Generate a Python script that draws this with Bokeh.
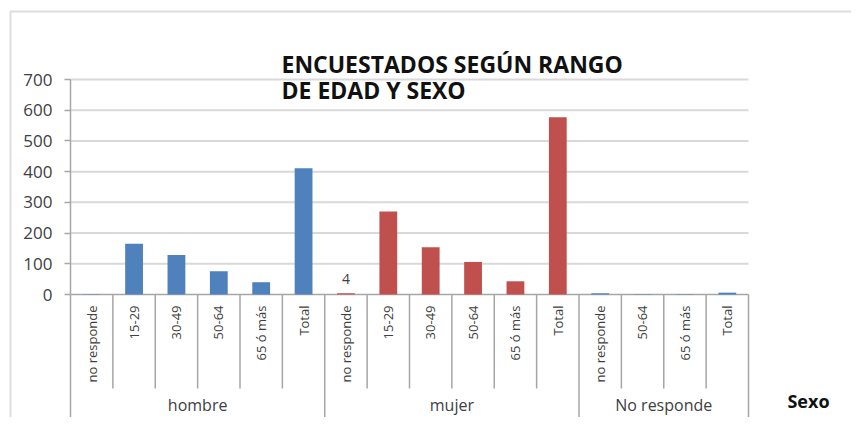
import math
from bokeh.plotting import figure
from bokeh.models import Range1d, FixedTicker, Label, BoxAnnotation, ColumnDataSource
from bokeh.core.properties import value
from bokeh.embed import file_html
from bokeh.resources import INLINE

# ---------------- data ----------------
groups = ["hombre", "mujer", "No responde"]
hombre_cats = ["no responde", "15-29", "30-49", "50-64", "65 ó más", "Total"]
hombre_vals = [1, 165, 129, 76, 40, 411]
mujer_cats = ["no responde", "15-29", "30-49", "50-64", "65 ó más", "Total"]
mujer_vals = [4, 270, 154, 106, 43, 577]
noresp_cats = ["no responde", "50-64", "65 ó más", "Total"]
noresp_vals = [4, 1, 1, 6]
group_colors = ["#4F81BD", "#C0504D", "#4F81BD"]
y_ticks = [0, 100, 200, 300, 400, 500, 600, 700]
title_lines = ["ENCUESTADOS SEGÚN RANGO", "DE EDAD Y SEXO"]
axis_title = "Sexo"
labelled_bar = ("mujer", "no responde")

# ---------------- build table ----------------
cat_lists = [hombre_cats, mujer_cats, noresp_cats]
val_lists = [hombre_vals, mujer_vals, noresp_vals]
xs, tops, cats, colors, grp = [], [], [], [], []
group_bounds = [0]
group_centers = []
i = 0
for g, cl, vl, col in zip(groups, cat_lists, val_lists, group_colors):
    start = i
    for c, v in zip(cl, vl):
        xs.append(i + 0.5)
        tops.append(v)
        cats.append(c)
        colors.append(col)
        grp.append(g)
        i += 1
    group_centers.append((start + i) / 2)
    group_bounds.append(i)
n = i
inner_bounds = [b for b in range(1, n) if b not in group_bounds]

src = ColumnDataSource(dict(x=xs, top=tops, cat=cats, color=colors, grp=grp))

# ---------------- geometry (canvas pixels) ----------------
W, H = 851, 417
plot_left, plot_right = 70, 748        # category area
zero_px = 294                          # pixel row of value 0
px_per_unit = 215 / 700
ux = (plot_right - plot_left) / n      # px per category

x_start = -plot_left / ux
x_end = (W - plot_left) / ux
y_top = zero_px / px_per_unit
y_bot = -(H - zero_px) / px_per_unit

def dx(px):  # canvas x px -> data x
    return (px - plot_left) / ux

def dy(py):  # canvas y px -> data y
    return (zero_px - py) / px_per_unit

FONT = "Open Sans"
GRAY_TXT = "#404040"
LINE = "#a6a6a6"

p = figure(width=W, height=H, x_range=Range1d(x_start, x_end),
           y_range=Range1d(y_bot, y_top),
           output_backend="svg", toolbar_location=None, x_axis_location=None,
           min_border_left=0, min_border_right=0,
           min_border_top=0, min_border_bottom=0)
p.outline_line_color = None
p.background_fill_color = "white"
p.border_fill_color = "white"
p.xgrid.visible = False
p.ygrid.visible = False

ax = p.yaxis[0]
ax.fixed_location = 0
ax.ticker = FixedTicker(ticks=y_ticks)
ax.bounds = (0, y_ticks[-1])
ax.axis_line_color = LINE
ax.axis_line_width = 1.5
ax.major_tick_line_color = LINE
ax.major_tick_line_width = 1.5
ax.major_tick_in = 0
ax.major_tick_out = 6
ax.minor_tick_line_color = None
ax.major_label_text_font = FONT
ax.major_label_text_font_size = "17px"
ax.major_label_text_color = GRAY_TXT
ax.major_label_standoff = 12

# horizontal gridlines (value ticks), limited to the category area
grid_vals = [t for t in y_ticks if t != 0]
p.segment(x0=[0] * len(grid_vals), y0=grid_vals, x1=[n] * len(grid_vals), y1=grid_vals,
          line_color="#d9d9d9", line_width=2)

# category axis line and separators
p.segment(x0=[0], y0=[0], x1=[n], y1=[0], line_color=LINE, line_width=1.5)
p.segment(x0=inner_bounds, y0=[0] * len(inner_bounds), x1=inner_bounds,
          y1=[dy(388)] * len(inner_bounds), line_color=LINE, line_width=1.5)
p.segment(x0=group_bounds, y0=[0] * len(group_bounds), x1=group_bounds,
          y1=[y_bot - 50] * len(group_bounds), line_color=LINE, line_width=1.5)

# bars
p.vbar(x="x", top="top", bottom=0, width=0.42, source=src,
       fill_color="color", line_color=None)

# data label
lx = [x for x, g, c in zip(xs, grp, cats) if (g, c) == labelled_bar]
lt = [t for t, g, c in zip(tops, grp, cats) if (g, c) == labelled_bar]
p.text(x=lx, y=lt, text=[str(t) for t in lt], text_font=value(FONT),
       text_font_size="14px", text_color=GRAY_TXT, text_align="center",
       text_baseline="bottom", y_offset=-9)

# category labels (vertical)
p.text(x="x", y=0, text="cat", source=src, angle=math.pi / 2,
       text_align="right", text_baseline="middle", y_offset=11,
       text_font=value(FONT), text_font_size="13px", text_color=GRAY_TXT)

# group labels
p.text(x=group_centers, y=[0] * len(groups), text=groups, y_offset=110,
       text_align="center", text_baseline="middle",
       text_font=value(FONT), text_font_size="16px", text_color=GRAY_TXT)

# title
for k, line in enumerate(title_lines):
    p.add_layout(Label(x=dx(281), y=dy(63 + 26 * k), text=line,
                       text_font=FONT, text_font_size="23px", text_font_style="bold",
                       text_color="#111111", text_align="left", text_baseline="middle"))

# axis title
p.add_layout(Label(x=dx(808), y=dy(400), text=axis_title, text_font=FONT,
                   text_font_size="18px", text_font_style="bold", text_color="#111111",
                   text_align="center", text_baseline="middle"))

# chart border
p.add_layout(BoxAnnotation(left=10, right=W + 100, top=11, bottom=H + 100,
                           left_units="canvas", right_units="canvas",
                           top_units="canvas", bottom_units="canvas",
                           fill_alpha=0, line_color="#8f8f8f", line_width=2,
                           level="overlay"))

open("out.html", "w").write(file_html(p, INLINE))
